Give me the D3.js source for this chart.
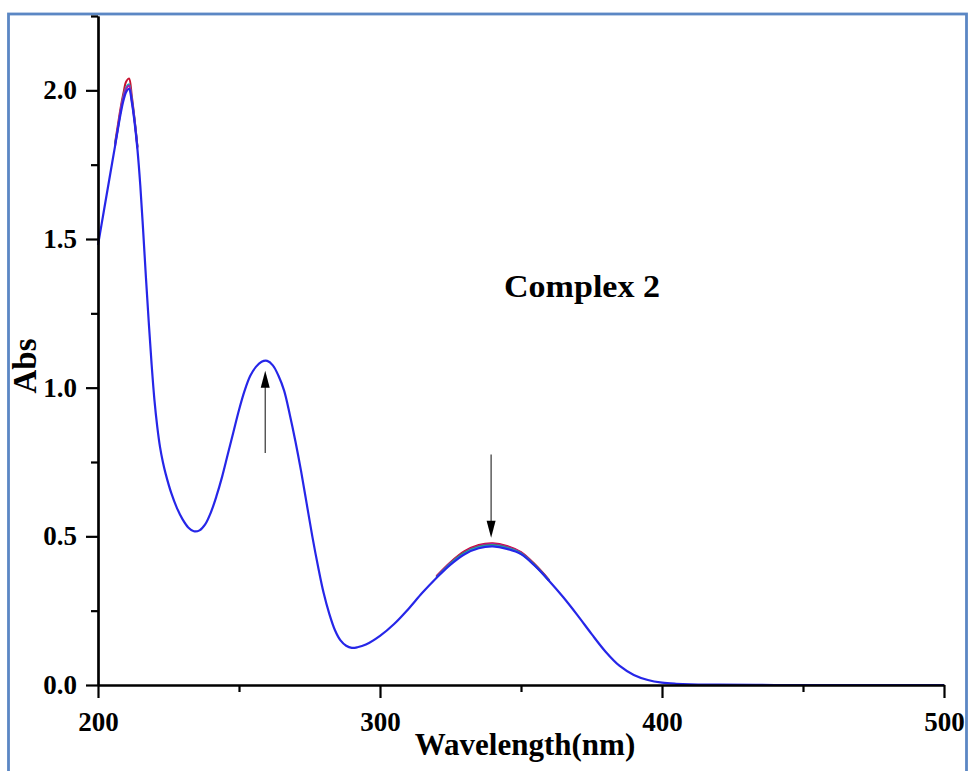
<!DOCTYPE html>
<html>
<head>
<meta charset="utf-8">
<script src="https://cdn.jsdelivr.net/npm/d3@7"></script>
<style>
  html, body { margin: 0; padding: 0; background: #fff; }
  svg { display: block; }
  text { font-family: "Liberation Serif", "Times New Roman", serif; font-weight: bold; fill: #000; }
</style>
</head>
<body>
<svg id="chart" width="969" height="771"></svg>
<script>
// ---- Data ----
const wavelength = [200,202,204,206,208,209,210,211,212,213,214,215,216,217,218,219,220,221,222,223,224,226,228,230,232,234,236,238,240,242,244,246,248,250,252,254,256,258,260,262,264,266,268,270,272,274,276,278,280,282,284,286,288,290,292,295,300,305,310,315,320,325,330,335,340,345,350,355,360,365,370,375,380,385,390,395,400,405,410,420,440,460,480,500];
const absFinal = [1.48,1.59,1.70,1.81,1.92,1.965,1.995,2.005,1.96,1.89,1.80,1.68,1.53,1.37,1.22,1.08,0.96,0.87,0.80,0.75,0.71,0.645,0.595,0.557,0.53,0.517,0.52,0.54,0.58,0.635,0.70,0.775,0.85,0.925,0.99,1.04,1.07,1.087,1.09,1.075,1.04,0.99,0.91,0.82,0.72,0.61,0.50,0.40,0.31,0.24,0.185,0.15,0.132,0.125,0.127,0.136,0.165,0.205,0.255,0.31,0.36,0.405,0.44,0.46,0.466,0.458,0.44,0.40,0.35,0.295,0.235,0.172,0.112,0.064,0.034,0.017,0.008,0.004,0.002,0.001,0,0,0,0];

// Earlier spectra: only where they visibly separate from the final one
const wlPeak1 = [206,207,208,209,210,211,212,213,214];
const absPeak1Red  = [1.82,1.88,1.94,1.99,2.03,2.04,1.98,1.90,1.81];
const absPeak1Cyan = [1.82,1.87,1.93,1.98,2.01,2.02,1.97,1.90,1.81];
const absPeak1Mag  = [1.81,1.87,1.93,1.975,2.005,2.015,1.965,1.895,1.805];
const wlPeak3 = [320,325,330,335,340,345,350,355,360];
const absPeak3Red   = [0.366,0.413,0.450,0.471,0.477,0.468,0.447,0.405,0.353];
const absPeak3Mag   = [0.364,0.411,0.447,0.468,0.474,0.465,0.445,0.403,0.352];
const absPeak3Green = [0.362,0.409,0.445,0.465,0.471,0.462,0.443,0.402,0.351];
const absPeak3Cyan  = [0.361,0.408,0.443,0.463,0.469,0.461,0.442,0.401,0.350];

const xMajorTicks = [200,300,400,500];
const xMinorTicks = [250,350,450];
const yMajorTicks = [0,0.5,1.0,1.5,2.0];
const yMinorTicks = [0.25,0.75,1.25,1.75,2.25];

const chartTitle = "Complex 2";
const xTitle = "Wavelength(nm)";
const yTitle = "Abs";

// arrows: [wavelength, from Abs, to Abs]
const arrowUp = [259.3, 0.78, 1.057];
const arrowDown = [339.4, 0.775, 0.495];

// ---- Drawing ----
const svg = d3.select("#chart");

// outer frame
svg.append("rect")
  .attr("x", 8.5).attr("y", 14).attr("width", 958).attr("height", 790)
  .attr("fill", "none").attr("stroke", "#5b87c4").attr("stroke-width", 2.8);

const x = d3.scaleLinear().domain([200, 500]).range([98, 944]);
const y = d3.scaleLinear().domain([0, 2.25]).range([685, 16]);

const line = d3.line().x(d => x(d[0])).y(d => y(d[1])).curve(d3.curveCatmullRom.alpha(0.5));

function series(wl, ab) { return wl.map((w, i) => [w, ab[i]]); }

const lines = [
  [wlPeak1, absPeak1Red, "#c8102e"],
  [wlPeak1, absPeak1Cyan, "#1fa8b8"],
  [wlPeak1, absPeak1Mag, "#b01aa8"],
  [wlPeak3, absPeak3Red, "#c8102e"],
  [wlPeak3, absPeak3Mag, "#b01aa8"],
  [wlPeak3, absPeak3Green, "#3f7f3f"],
  [wlPeak3, absPeak3Cyan, "#1fa8b8"]
];
lines.forEach(([wl, ab, c]) => {
  svg.append("path").datum(series(wl, ab))
    .attr("d", line).attr("fill", "none").attr("stroke", c).attr("stroke-width", 2);
});

svg.append("path").datum(series(wavelength, absFinal))
  .attr("d", line).attr("fill", "none").attr("stroke", "#2626e8").attr("stroke-width", 2.2);

// axes
const xAxis = d3.axisBottom(x).tickValues(xMajorTicks).tickSize(13).tickSizeOuter(0).tickPadding(14).tickFormat(d3.format("d"));
const xMinor = d3.axisBottom(x).tickValues(xMinorTicks).tickSize(7).tickSizeOuter(0).tickFormat("");
const yAxis = d3.axisLeft(y).tickValues(yMajorTicks).tickSize(12).tickSizeOuter(0).tickPadding(9).tickFormat(d3.format(".1f"));
const yMinor = d3.axisLeft(y).tickValues(yMinorTicks).tickSize(7).tickSizeOuter(0).tickFormat("");

function styleAxis(g) {
  g.select(".domain").attr("stroke", "#000").attr("stroke-width", 2.2);
  g.selectAll(".tick line").attr("stroke", "#000").attr("stroke-width", 2.2);
  g.selectAll(".tick text").style("font-family", '"Liberation Serif", "Times New Roman", serif')
    .style("font-weight", "bold").style("font-size", "27px").attr("fill", "#000");
}

svg.append("g").attr("transform", `translate(0,${y(0)})`).call(xMinor).call(styleAxis);
svg.append("g").attr("transform", `translate(0,${y(0)})`).call(xAxis).call(styleAxis);
svg.append("g").attr("transform", `translate(${x(200)},0)`).call(yMinor).call(styleAxis);
svg.append("g").attr("transform", `translate(${x(200)},0)`).call(yAxis).call(styleAxis);

// titles
svg.append("text").attr("x", 525).attr("y", 755).attr("text-anchor", "middle")
  .style("font-size", "31px").text(xTitle);
svg.append("text").attr("transform", "translate(36,366) rotate(-90)").attr("text-anchor", "middle")
  .style("font-size", "33px").text(yTitle);
svg.append("text").attr("x", 582).attr("y", 297).attr("text-anchor", "middle")
  .attr("textLength", 156).attr("lengthAdjust", "spacingAndGlyphs")
  .style("font-size", "32px").text(chartTitle);

// arrows
function drawArrow([w, a0, a1]) {
  const xs = x(w), y0 = y(a0), y1 = y(a1);
  const dir = y1 < y0 ? 1 : -1; // 1 = pointing up
  const headLen = 17, half = 4.5;
  svg.append("line").attr("x1", xs).attr("x2", xs).attr("y1", y0).attr("y2", y1 + dir * headLen * 0.6)
    .attr("stroke", "#333").attr("stroke-width", 1.2);
  const base = y1 + dir * headLen;
  svg.append("path")
    .attr("d", `M${xs},${y1} L${xs - half},${base} L${xs + half},${base} Z`)
    .attr("fill", "#000");
}
drawArrow(arrowUp);
drawArrow(arrowDown);
</script>
</body>
</html>
